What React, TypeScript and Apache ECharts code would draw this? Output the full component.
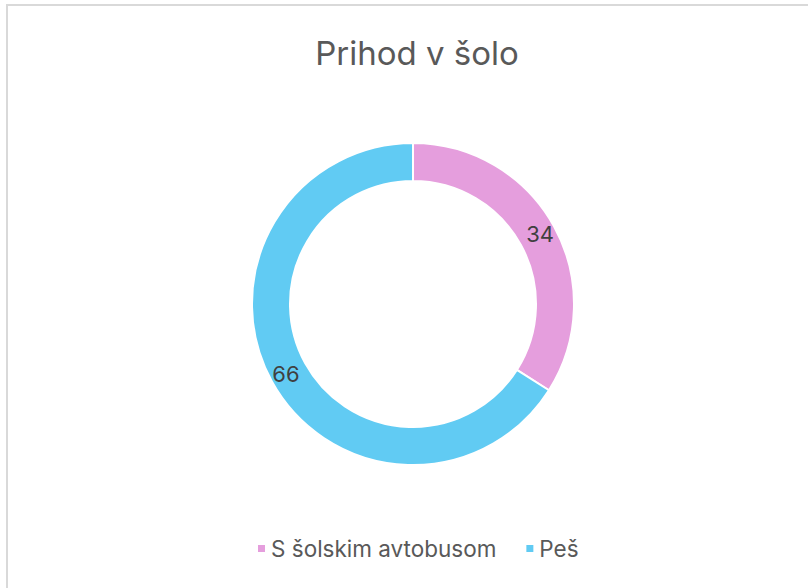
import React, { useEffect, useRef } from "react";
import * as echarts from "echarts";

const categories = ["S šolskim avtobusom", "Peš"];
const values = [34, 66];
const colors = ["#E59EDD", "#61CBF3"];
const titleText = "Prihod v šolo";

export default function App() {
  const ref = useRef<HTMLDivElement>(null);
  useEffect(() => {
    document.body.style.margin = "0";
    const chart = echarts.init(ref.current!, undefined, { renderer: "svg" });
    chart.setOption({
      animation: false,
      backgroundColor: "#ffffff",
      title: {
        text: titleText,
        left: 412,
        textAlign: "center",
        top: 31,
        textStyle: {
          fontFamily: "Inter",
          fontSize: 33,
          fontWeight: "normal",
          color: "#595959",
        },
      },
      graphic: [
        {
          type: "rect",
          shape: { x: 7, y: 5, width: 830, height: 620 },
          style: { fill: "none", stroke: "#D9D9D9", lineWidth: 2 },
          silent: true,
        },
      ],
      legend: {
        bottom: 23,
        left: 251,
        itemWidth: 9,
        itemHeight: 9,
        itemGap: 28,
        icon: "rect",
        textStyle: { fontFamily: "Inter", fontSize: 22.5, color: "#595959" },
        data: categories,
      },
      series: [
        {
          type: "pie",
          center: [413, 304],
          radius: [123, 161],
          startAngle: 90,
          clockwise: true,
          itemStyle: { borderColor: "#ffffff", borderWidth: 2 },
          label: {
            show: true,
            position: "inside",
            formatter: "{c}",
            fontFamily: "Inter",
            fontSize: 22,
            color: "#404040",
          },
          labelLine: { show: false },
          data: categories.map((c, i) => ({
            name: c,
            value: values[i],
            itemStyle: { color: colors[i] },
          })),
        },
      ],
    });
    return () => chart.dispose();
  }, []);
  return <div ref={ref} style={{ width: 808, height: 588 }} />;
}
